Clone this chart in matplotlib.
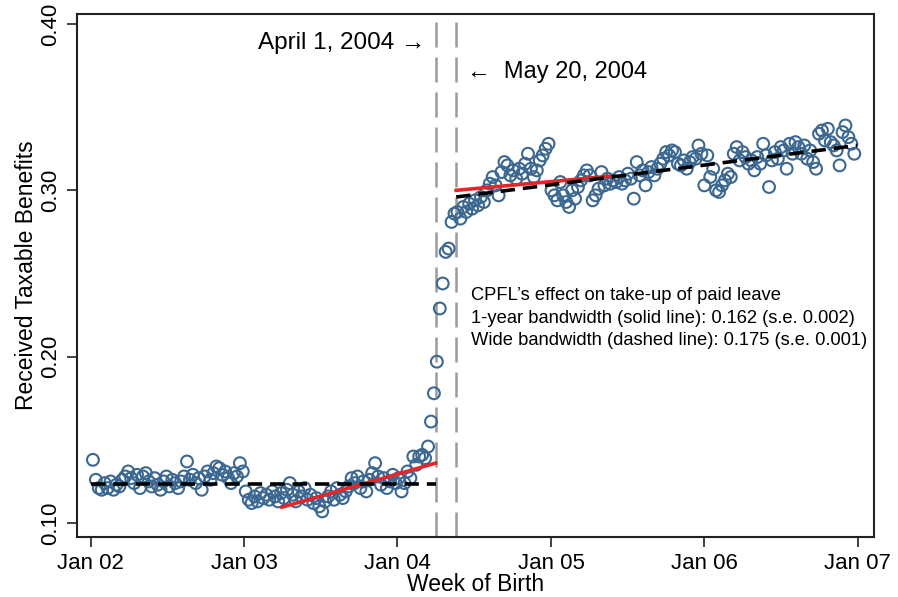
import numpy as np
import pandas as pd
import matplotlib
matplotlib.use("Agg")
import matplotlib.pyplot as plt
import matplotlib.dates as mdates

plt.rcParams["font.family"] = ["Liberation Sans", "DejaVu Sans"]

# weekly share receiving taxable benefits
vals_2002 = [
    0.138, 0.126, 0.121, 0.120, 0.124, 0.121, 0.125, 0.120, 0.123, 0.122, 0.126,
    0.128, 0.131, 0.127, 0.124, 0.129, 0.121, 0.128, 0.130, 0.125, 0.122,
    0.127, 0.123, 0.120, 0.125, 0.128, 0.122, 0.126, 0.124, 0.121, 0.125,
    0.128, 0.137, 0.126, 0.129, 0.124, 0.127, 0.120, 0.128, 0.131, 0.126,
    0.130, 0.134, 0.133, 0.129, 0.131, 0.127, 0.124, 0.130, 0.128, 0.136, 0.131,
]
vals_2003 = [
    0.119, 0.114, 0.112, 0.116, 0.113, 0.118, 0.115, 0.117, 0.114, 0.119, 0.116,
    0.113, 0.118, 0.115, 0.120, 0.124, 0.117, 0.113, 0.119, 0.116, 0.121,
    0.114, 0.117, 0.112, 0.115, 0.110, 0.107, 0.113, 0.116, 0.119, 0.114,
    0.121, 0.117, 0.115, 0.119, 0.122, 0.127, 0.124, 0.128, 0.121, 0.125,
    0.119, 0.126, 0.130, 0.136, 0.128, 0.123, 0.127, 0.121, 0.125, 0.129, 0.124,
]
vals_2004 = [
    0.127, 0.119, 0.124, 0.131, 0.127, 0.140, 0.135, 0.140, 0.141, 0.139, 0.146,
    0.161, 0.178, 0.197, 0.229, 0.244, 0.263, 0.265, 0.281, 0.286,
    0.287, 0.283, 0.290, 0.287, 0.292, 0.289, 0.294, 0.291, 0.296, 0.293,
    0.300, 0.304, 0.308, 0.303, 0.297, 0.311, 0.317, 0.315, 0.309, 0.312,
    0.307, 0.313, 0.310, 0.316, 0.322, 0.313, 0.308, 0.312, 0.318, 0.321,
    0.325, 0.328,
]
vals_2005 = [
    0.300, 0.297, 0.294, 0.305, 0.297, 0.293, 0.290, 0.300, 0.295, 0.302, 0.306,
    0.309, 0.312, 0.309, 0.294, 0.297, 0.301, 0.311, 0.303, 0.307, 0.304,
    0.306, 0.305, 0.308, 0.304, 0.306, 0.310, 0.307, 0.295, 0.317, 0.309,
    0.312, 0.303, 0.311, 0.314, 0.309, 0.313, 0.316, 0.319, 0.323, 0.321,
    0.324, 0.323, 0.316, 0.315, 0.318, 0.313, 0.317, 0.320, 0.319, 0.327, 0.322,
]
vals_2006 = [
    0.303, 0.321, 0.308, 0.313, 0.300, 0.299, 0.303, 0.306, 0.310, 0.308, 0.322,
    0.326, 0.318, 0.323, 0.320, 0.316, 0.318, 0.312, 0.320, 0.316, 0.328,
    0.321, 0.302, 0.318, 0.323, 0.319, 0.326, 0.324, 0.313, 0.328, 0.322,
    0.329, 0.326, 0.322, 0.327, 0.319, 0.324, 0.317, 0.313, 0.334, 0.336,
    0.330, 0.337, 0.329, 0.327, 0.324, 0.315, 0.335, 0.339, 0.332, 0.328, 0.322,
]
values = vals_2002 + vals_2003 + vals_2004 + vals_2005 + vals_2006
weeks = pd.date_range("2002-01-06", periods=len(values), freq="7D")

# fitted lines (endpoints)
solid_pre_x = pd.to_datetime(["2003-04-01", "2004-04-01"])
solid_pre_y = [0.1095, 0.136]
solid_post_x = pd.to_datetime(["2004-05-20", "2005-05-20"])
solid_post_y = [0.300, 0.3085]
wide_pre_x = pd.to_datetime(["2002-01-01", "2004-04-01"])
wide_pre_y = [0.1235, 0.1235]
wide_post_x = pd.to_datetime(["2004-05-20", "2006-12-31"])
wide_post_y = [0.296, 0.327]

cutoffs = pd.to_datetime(["2004-04-01", "2004-05-20"])
xtick_dates = pd.to_datetime(["2002-01-01", "2003-01-01", "2004-01-01",
                              "2005-01-01", "2006-01-01", "2007-01-01"])
xtick_labels = ["Jan 02", "Jan 03", "Jan 04", "Jan 05", "Jan 06", "Jan 07"]
ytick_vals = [0.10, 0.20, 0.30, 0.40]

fig = plt.figure(figsize=(8.98, 5.97), dpi=100)
ax = fig.add_axes([0.0857, 0.1005, 0.8876, 0.876])

for c in cutoffs:
    ax.axvline(c, color="#9a9a9a", lw=1.8, dashes=(10, 4), zorder=1)

ax.scatter(weeks, values, s=72, facecolors="none", edgecolors="#3b6790",
           linewidths=1.5, zorder=3)

ax.plot(solid_pre_x, solid_pre_y, color="#e3262a", lw=2.6, zorder=4)
ax.plot(solid_post_x, solid_post_y, color="#e3262a", lw=2.6, zorder=4)
ax.plot(wide_pre_x, wide_pre_y, color="black", lw=2.6, dashes=(4, 2.2), zorder=5)
ax.plot(wide_post_x, wide_post_y, color="black", lw=2.6, dashes=(4, 2.2), zorder=5)

ax.set_xlim(pd.Timestamp("2001-11-29"), pd.Timestamp("2007-02-09"))
ax.set_ylim(0.0916, 0.406)
ax.set_xticks(xtick_dates)
ax.set_xticklabels(xtick_labels, fontsize=16)
ax.set_yticks(ytick_vals)
ax.set_yticklabels([f"{v:.2f}" for v in ytick_vals], rotation=90, va="center",
                   fontsize=16)
ax.tick_params(direction="out", length=7.2, width=1.3, color="#333333", pad=4)
for sp in ax.spines.values():
    sp.set_linewidth(1.5)
    sp.set_color("#222222")

ax.set_xlabel("Week of Birth", fontsize=16.5, labelpad=-0.5)
ax.set_ylabel("Received Taxable Benefits", fontsize=16.5, labelpad=2)

ax.text(pd.Timestamp("2004-03-08"), 0.3886, "April 1, 2004 \u2192", ha="right",
        va="center", fontsize=17.5)
ax.text(pd.Timestamp("2004-06-14"), 0.371, "\u2190  May 20, 2004", ha="left",
        va="center", fontsize=17)

note = ("CPFL\u2019s effect on take-up of paid leave\n"
        "1-year bandwidth (solid line): 0.162 (s.e. 0.002)\n"
        "Wide bandwidth (dashed line): 0.175 (s.e. 0.001)")
ax.text(pd.Timestamp("2004-06-25"), 0.2231, note, ha="left", va="center",
        fontsize=13.2, linespacing=1.42)

fig.savefig("out.png", dpi=100)
